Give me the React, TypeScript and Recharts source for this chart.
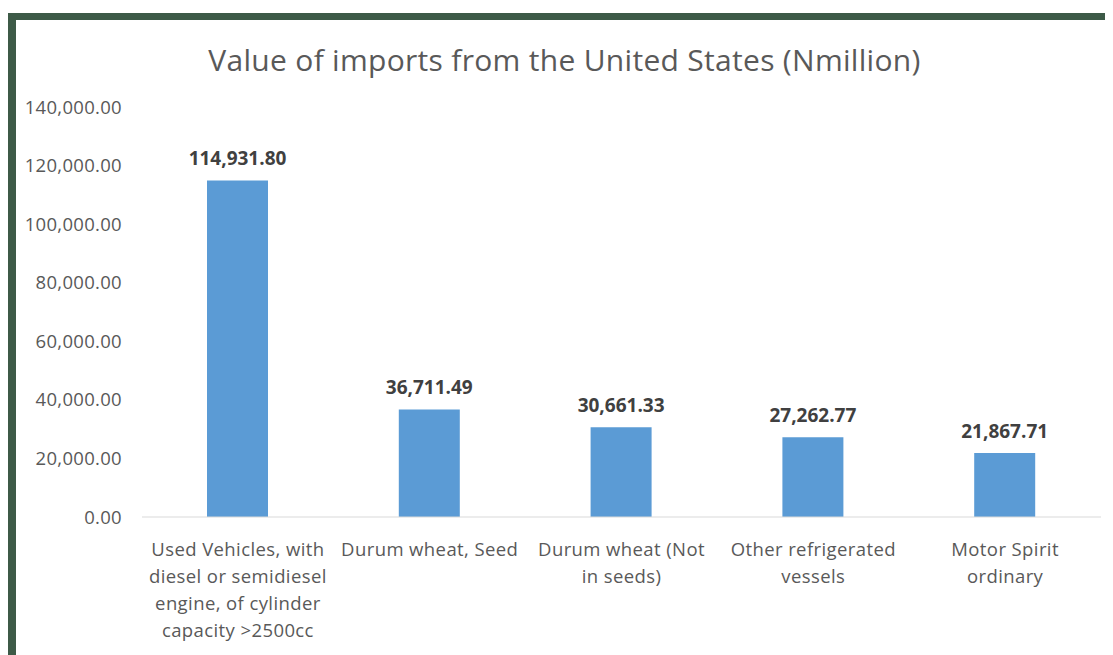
import { BarChart, Bar, XAxis, YAxis, LabelList } from "recharts";

const categories = [
  "Used Vehicles, with diesel or semidiesel engine, of cylinder capacity >2500cc",
  "Durum wheat, Seed",
  "Durum wheat (Not in seeds)",
  "Other refrigerated vessels",
  "Motor Spirit ordinary",
];

// wrapped the way the original chart breaks them
const categoryLines = [
  ["Used Vehicles, with", "diesel or semidiesel", "engine, of cylinder", "capacity >2500cc"],
  ["Durum wheat, Seed"],
  ["Durum wheat (Not", "in seeds)"],
  ["Other refrigerated", "vessels"],
  ["Motor Spirit", "ordinary"],
];

const importValues = [114931.8, 36711.49, 30661.33, 27262.77, 21867.71];

const yTicks = [0, 20000, 40000, 60000, 80000, 100000, 120000, 140000];

const data = categories.map((name, i) => ({ name, idx: i, value: importValues[i] }));

const FONT = "'Open Sans', Lato, sans-serif";
const fmt = (v: number) =>
  v.toLocaleString("en-US", { minimumFractionDigits: 2, maximumFractionDigits: 2 });

function CategoryTick(props: any) {
  const { x, y, index } = props;
  const lines = categoryLines[index] || [];
  return (
    <g transform={`translate(${x},${y})`}>
      {lines.map((line, i) => (
        <text
          key={i}
          x={0}
          y={25 + i * 27}
          dy="0.35em"
          textAnchor="middle"
          fill="#595959"
          fontSize={18.5}
          letterSpacing={0.4}
          fontFamily={FONT}
        >
          {line}
        </text>
      ))}
    </g>
  );
}

export default function App() {
  return (
    <div
      style={{
        position: "relative",
        marginTop: 5,
        width: 1105,
        height: 642,
        boxSizing: "border-box",
        borderTop: "7px solid #3d5a47",
        borderLeft: "8px solid #3d5a47",
        background: "#fff",
        overflow: "hidden",
      }}
    >
      <div
        style={{
          position: "absolute",
          top: 19,
          left: 0,
          width: 1097,
          textAlign: "center",
          fontFamily: FONT,
          fontSize: 30,
          letterSpacing: 0.3,
          color: "#595959",
        }}
      >
        Value of imports from the United States (Nmillion)
      </div>
      <BarChart
        width={1097}
        height={635}
        data={data}
        margin={{ top: 87, right: 12, left: 0, bottom: 0 }}
      >
        <XAxis
          dataKey="name"
          height={138}
          interval={0}
          tickLine={false}
          axisLine={{ stroke: "#d9d9d9" }}
          tick={<CategoryTick />}
        />
        <YAxis
          width={126}
          domain={[0, 140000]}
          ticks={yTicks}
          tickFormatter={fmt}
          axisLine={false}
          tickLine={false}
          tickSize={0}
          tickMargin={20}
          tick={{ fill: "#595959", fontSize: 18.5, letterSpacing: 0.3, fontFamily: FONT }}
        />
        <Bar dataKey="value" fill="#5b9bd5" barSize={61} isAnimationActive={false}>
          <LabelList
            dataKey="value"
            position="top"
            offset={15}
            formatter={(v: any) => fmt(Number(v))}
            style={{ fill: "#404040", fontSize: 19, fontWeight: 700, fontFamily: FONT }}
          />
        </Bar>
      </BarChart>
    </div>
  );
}
